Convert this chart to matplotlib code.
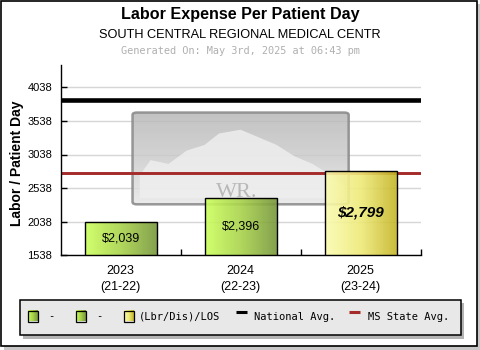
import numpy as np
import matplotlib
matplotlib.use("Agg")
import matplotlib.pyplot as plt
from matplotlib.patches import Rectangle, FancyBboxPatch
from matplotlib.colors import LinearSegmentedColormap

plt.rcParams['font.family'] = ['Liberation Sans', 'DejaVu Sans']

years = ['2023', '2024', '2025']
periods = ['(21-22)', '(22-23)', '(23-24)']
values = [2039, 2396, 2799]
value_labels = ['$2,039', '$2,396', '$2,799']
national_avg = 3855
state_avg = 2770
yticks = [1538, 2038, 2538, 3038, 3538, 4038]
legend_labels = ['-', '-', '(Lbr/Dis)/LOS', 'National Avg.', 'MS State Avg.']

green = LinearSegmentedColormap.from_list('g', ['#ccff5c', '#a8d24a', '#76963a'])
yellow = LinearSegmentedColormap.from_list('y', ['#fbfbb0', '#eeea78', '#c4b424'])
bar_cmaps = [green, green, yellow]
wm_cmap = LinearSegmentedColormap.from_list('w', ['#b8b8b8', '#cccccc', '#e6e6e6'])

W, H = 480, 350
fig = plt.figure(figsize=(4.8, 3.5), dpi=100)

# background layer in pixel coords (frame, titles, legend)
bg = fig.add_axes([0, 0, 1, 1], zorder=0)
bg.set_xlim(0, W)
bg.set_ylim(H, 0)
bg.axis('off')
bg.add_patch(Rectangle((4, 4), 476, 346, facecolor='#c8c8c8', edgecolor='none'))
bg.add_patch(Rectangle((0.5, 0.5), 476, 345, facecolor='white', edgecolor='black', lw=1.2))

bg.text(240, 18.5, 'Labor Expense Per Patient Day', ha='center', va='baseline',
        fontsize=11.6, fontweight='bold')
bg.text(240, 38, 'SOUTH CENTRAL REGIONAL MEDICAL CENTR', ha='center', va='baseline',
        fontsize=9.2)
bg.text(240, 54.5, 'Generated On: May 3rd, 2025 at 06:43 pm', ha='center', va='baseline',
        fontsize=7.4, color='#b0b0b0', family='DejaVu Sans Mono')
bg.text(17.5, 163, 'Labor / Patient Day', ha='center', va='center', rotation=90,
        fontsize=10, fontweight='bold')

# legend box
bg.add_patch(Rectangle((22.5, 302.5), 441, 36, facecolor='#b4b4b4', edgecolor='none'))
bg.add_patch(Rectangle((19.5, 299.5), 441, 35.5, facecolor='#e8e8e8', edgecolor='black', lw=1.1))
grad = np.linspace(0, 1, 64).reshape(1, -1)
sq_x = [27.5, 75.5, 123.5]
for x0, cm, lab in zip(sq_x, bar_cmaps, legend_labels[:3]):
    bg.imshow(grad, cmap=cm, extent=(x0, x0 + 10, 321.5, 311), aspect='auto', zorder=3)
    bg.add_patch(Rectangle((x0, 311), 10, 10.5, facecolor='none', edgecolor='black', lw=0.9, zorder=4))
    bg.text(x0 + 15 if lab != '-' else x0 + 24, 319.5, lab, ha='left' if lab != '-' else 'center',
            va='baseline', fontsize=7.5, family='DejaVu Sans Mono')
bg.plot([235.5, 246.5], [312.3, 312.3], color='black', lw=2.2, solid_capstyle='butt')
bg.text(254, 319.5, legend_labels[3], va='baseline', fontsize=7.5, family='DejaVu Sans Mono')
bg.plot([349.3, 360], [312.3, 312.3], color='#a52a2a', lw=2.2, solid_capstyle='butt')
bg.text(368, 319.5, legend_labels[4], va='baseline', fontsize=7.5, family='DejaVu Sans Mono')

# main plot
ax = fig.add_axes([60.5 / W, 1 - 255.3 / H, 360.2 / W, 190.3 / H], zorder=1)
ax.set_facecolor('white')
x = np.arange(len(values))
ymin, ymax = 1538, 1538 + 190.3 / 168 * 2500

for yt in yticks:
    ax.axhline(yt, color='#d6d6d6', lw=1, zorder=0.5)

# watermark
wm = FancyBboxPatch((0.2, 0.268), 0.6, 0.482, boxstyle='round,pad=0,rounding_size=0.012',
                    transform=ax.transAxes, facecolor='none', edgecolor='#8c8c8c', lw=1.8,
                    alpha=0.9, zorder=1.2)
ax.add_patch(wm)
img = ax.imshow(np.linspace(0, 1, 64).reshape(-1, 1), cmap=wm_cmap, extent=(0.2, 0.8, 0.268, 0.75),
                transform=ax.transAxes, aspect='auto', alpha=0.85, zorder=1.1)
img.set_clip_path(wm)
crowd_x = [0.22, 0.25, 0.3, 0.35, 0.4, 0.44, 0.5, 0.55, 0.6, 0.65, 0.7, 0.75, 0.79, 0.79, 0.22]
crowd_y = [0.42, 0.5, 0.48, 0.55, 0.58, 0.64, 0.66, 0.62, 0.58, 0.52, 0.48, 0.42, 0.36, 0.3, 0.3]
ax.fill(crowd_x, crowd_y, transform=ax.transAxes, color='#f0f0f0', alpha=0.8, zorder=1.15, lw=0)
ax.text(0.49, 0.33, 'WR.', transform=ax.transAxes, ha='center', va='center', fontsize=16,
        family='Liberation Serif', color='#b8b8b8', zorder=1.16)

ax.axhline(national_avg, color='black', lw=3.3, zorder=4)
ax.axhline(state_avg, color='#a52a2a', lw=2.1, zorder=2)

for i, (v, cm) in enumerate(zip(values, bar_cmaps)):
    rect = Rectangle((i - 0.3, ymin), 0.6, v - ymin, facecolor='none', edgecolor='black', lw=1, zorder=3.2)
    ax.add_patch(rect)
    im = ax.imshow(grad, cmap=cm, extent=(i - 0.3, i + 0.3, ymin, v), aspect='auto', alpha=0.9, zorder=3)
    im.set_clip_path(rect)
    mid = (ymin + v) / 2
    if i == len(values) - 1:
        ax.text(i, mid, value_labels[i], ha='center', va='center', fontsize=11,
                fontweight='bold', style='italic', zorder=5)
    else:
        ax.text(i, mid, value_labels[i], ha='center', va='center', fontsize=9, zorder=5)

ax.set_xlim(-0.5, 2.5)
ax.set_ylim(ymin, ymax)
ax.set_yticks(yticks)
ax.set_yticklabels([str(t) for t in yticks], fontsize=8)
ax.tick_params(axis='y', direction='in', length=4, width=1, pad=6)
ax.set_xticks([0.5, 1.5, 2.5])
ax.set_xticklabels([])
ax.tick_params(axis='x', which='major', direction='in', length=4, width=1)
ax.set_xticks(x, minor=True)
ax.set_xticklabels([f'{y}\n{p}' for y, p in zip(years, periods)], minor=True,
                   fontsize=9, linespacing=1.45)
ax.tick_params(axis='x', which='minor', length=0, pad=7)
for s in ['top', 'right']:
    ax.spines[s].set_visible(False)
for s in ['left', 'bottom']:
    ax.spines[s].set_linewidth(1)

fig.savefig('out.png', dpi=100)
